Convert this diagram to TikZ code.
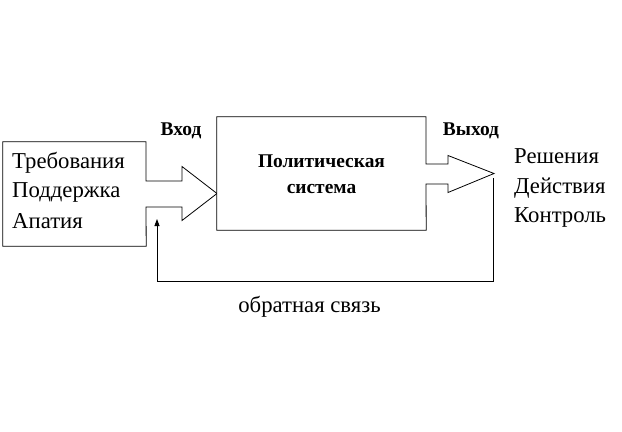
\documentclass[tikz,border=0pt]{standalone}
\usepackage{fontspec}
\setmainfont{Liberation Serif}
\usetikzlibrary{arrows.meta}
\begin{document}
\begin{tikzpicture}[x=1bp,y=-1bp,
  line/.style={draw=black,line width=0.8bp},
  body/.style={font=\fontsize{22.8}{26}\selectfont,inner sep=0pt,anchor=base west},
  bold/.style={font=\fontsize{19.5}{22}\selectfont\bfseries,inner sep=0pt,anchor=base}]
\useasboundingbox[fill=white] (0,0) rectangle (622,431);
% boxes
\node (inbox) [minimum width=143bp,minimum height=104bp,inner sep=0pt] at (74.5,194) {};
\node (sys) [minimum width=209bp,minimum height=113bp,inner sep=0pt] at (321.5,173.5) {};
% input arrow points
\coordinate (ia1) at (146,181);
\coordinate (ia2) at (146,207);
\coordinate (ia3) at (182,207);
\coordinate (ia4) at (182,220.5);
\coordinate (itip) at (217,193.5);
\coordinate (ia5) at (182,166.5);
\coordinate (ia6) at (182,181);
% output arrow points
\coordinate (oa1) at (426,164);
\coordinate (oa2) at (426,184);
\coordinate (oa3) at (448,184);
\coordinate (oa4) at (448,192.5);
\coordinate (otip) at (494,173.5);
\coordinate (oa5) at (448,155.5);
\coordinate (oa6) at (448,164);
% left box outline with input arrow
\draw[line,fill=white] (ia1) |- (inbox.north west) |- (inbox.south east) -- (ia2)
  -- (ia3) -- (ia4) -- (itip) -- (ia5) -- (ia6) -- cycle;
% central box with output arrow
\draw[line,fill=white] (oa1) |- (sys.north west) |- (sys.south east) -- (oa2)
  -- (oa3) -- (oa4) -- (otip) -- (oa5) -- (oa6) -- cycle;
% feedback
\coordinate (fbA) at (493.5,178);
\coordinate (fbC) at (157,281.5);
\coordinate (fbB) at (157,219);
\draw[line,-{Triangle[length=7bp,width=5bp]}] (fbA) |- (fbC) -- (fbB);
% texts
\node[bold] (vhod) at (181,135) {Вход};
\node[bold] (vyhod) at (471,135) {Выход};
\node[bold] (t1) at (321.5,167) {Политическая};
\node[bold] (t2) at (321.5,193) {система};
\node[body] (l1) at (12,168) {Требования};
\node[body] (l2) at (12,197.5) {Поддержка};
\node[body] (l3) at (12,228) {Апатия};
\node[body] (r1) at (514,163) {Решения};
\node[body] (r2) at (514,193) {Действия};
\node[body] (r3) at (514,222.5) {Контроль};
\node[body,anchor=base] (fb) at (309.5,312) {обратная связь};
\end{tikzpicture}
\end{document}
